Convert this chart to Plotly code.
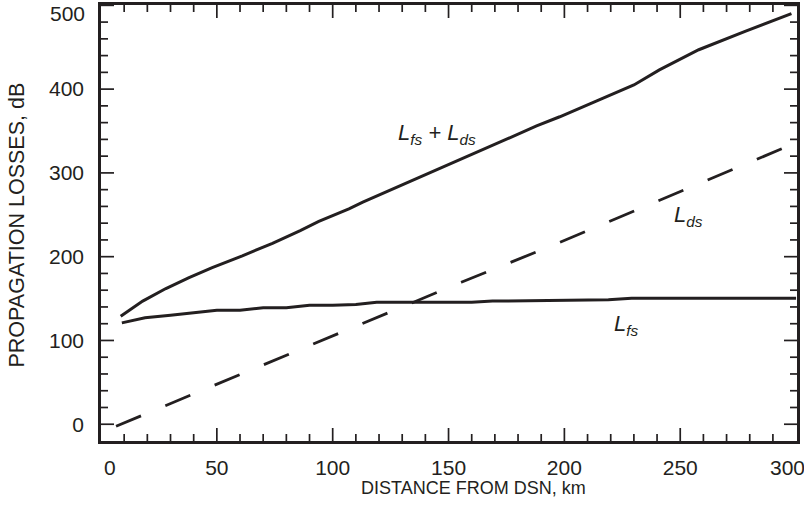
import plotly.graph_objects as go

# Distance (km) and losses (dB)
dist_total = [8.5, 18, 28, 38, 48, 61, 74, 86, 94, 107, 113, 132, 145, 159, 176, 188, 198, 207, 214, 230, 241, 258, 278, 298]
loss_total = [129, 147, 162, 175, 187, 201, 216, 231, 242, 257, 265, 288, 304, 320, 341, 356, 367, 378, 386, 405, 423, 447, 469, 490]

dist_fs = [9, 19, 30, 40, 50, 60, 70, 80, 90, 100, 110, 119, 160, 169, 219, 229, 300]
loss_fs = [121, 127, 130, 133, 136, 136, 139, 139, 142, 142, 143, 145.5, 145.5, 147, 148.5, 150.5, 150.5]

dist_ds = [6.5, 49, 102, 155.5, 198, 250.5, 300]
loss_ds = [-2.4, 46.4, 108, 169.4, 217, 278.6, 336]

x_ticks = [0, 50, 100, 150, 200, 250, 300]
x_labels = ["", "50", "100", "150", "200", "250", ""]
y_ticks = [0, 100, 200, 300, 400, 500]
y_labels = ["0", "100", "200", "300", "400", ""]
x_minor = list(range(10, 300, 10))
y_minor = list(range(0, 501, 20))
x_range = [0, 300.4]
y_range = [-20, 500.4]

INK = "#231f20"
FONT = "Liberation Sans, Arial, sans-serif"

W, H = 804, 518
M = dict(l=101, r=7, t=5, b=77)
PW = W - M["l"] - M["r"]     # plot width in px
PH = H - M["t"] - M["b"]     # plot height in px
MAJOR, MINOR = 13, 7         # tick lengths in px

fig = go.Figure()
fig.add_trace(go.Scatter(x=dist_total, y=loss_total, mode="lines",
                         line=dict(color=INK, width=3)))
fig.add_trace(go.Scatter(x=dist_fs, y=loss_fs, mode="lines",
                         line=dict(color=INK, width=3)))
fig.add_trace(go.Scatter(x=dist_ds, y=loss_ds, mode="lines",
                         line=dict(color=INK, width=2.8, dash="27px,26.4px")))

# inside tick marks on all four sides (layout shapes positioned by the axes)
tick_line = dict(color=INK, width=1.7)
for v in x_minor:
    f = (MAJOR if v in x_ticks else MINOR) / PH
    fig.add_shape(type="line", xref="x", yref="y domain", x0=v, x1=v, y0=0, y1=f,
                  line=tick_line, layer="above")
    fig.add_shape(type="line", xref="x", yref="y domain", x0=v, x1=v, y0=1, y1=1 - f,
                  line=tick_line, layer="above")
for v in y_minor:
    f = (MAJOR if v in y_ticks else MINOR) / PW
    fig.add_shape(type="line", xref="x domain", yref="y", x0=0, x1=f, y0=v, y1=v,
                  line=tick_line, layer="above")
    fig.add_shape(type="line", xref="x domain", yref="y", x0=1, x1=1 - f, y0=v, y1=v,
                  line=tick_line, layer="above")

base = dict(showline=True, linewidth=2.5, linecolor=INK, mirror=True, ticks="",
            showgrid=False, zeroline=False, automargin=False,
            tickfont=dict(family=FONT, size=21, color=INK))

fig.update_layout(
    xaxis=dict(range=x_range, tickvals=x_ticks, ticktext=x_labels, ticklabelstandoff=6, **base),
    yaxis=dict(range=y_range, tickvals=y_ticks, ticktext=y_labels, ticklabelstandoff=10, **base),
)

tick_font = dict(family=FONT, size=21, color=INK)
# edge tick labels, nudged inward as in the reference
fig.add_annotation(x=0.0129, y=-0.0305, xref="paper", yref="paper", xanchor="center", yanchor="top",
                   text="0", showarrow=False, font=tick_font)
fig.add_annotation(x=0.986, y=-0.0305, xref="paper", yref="paper", xanchor="center", yanchor="top",
                   text="300", showarrow=False, font=tick_font)
fig.add_annotation(x=-0.0195, y=0.9794, xref="paper", yref="paper", xanchor="right", yanchor="middle",
                   text="500", showarrow=False, font=tick_font)

# axis titles
fig.add_annotation(x=0.5345, y=-0.108, xref="paper", yref="paper", xanchor="center", yanchor="middle",
                   text="DISTANCE FROM DSN, km", showarrow=False,
                   font=dict(family=FONT, size=18, color=INK))
fig.add_annotation(x=-0.1214, y=0.4954, xref="paper", yref="paper", xanchor="center", yanchor="middle",
                   text="PROPAGATION LOSSES, dB", showarrow=False, textangle=-90,
                   font=dict(family=FONT, size=21.5, color=INK))

ann_font = dict(family=FONT, size=22, color=INK)
fig.add_annotation(x=127.2, y=346, xref="x", yref="y", xanchor="left", yanchor="middle",
                   text="<i>L<sub>fs</sub> + L<sub>ds</sub></i>", showarrow=False, font=ann_font)
fig.add_annotation(x=246.5, y=249, xref="x", yref="y", xanchor="left", yanchor="middle",
                   text="<i>L<sub>ds</sub></i>", showarrow=False, font=ann_font)
fig.add_annotation(x=220.7, y=118, xref="x", yref="y", xanchor="left", yanchor="middle",
                   text="<i>L<sub>fs</sub></i>", showarrow=False, font=ann_font)

fig.update_layout(width=W, height=H, margin=M,
                  plot_bgcolor="white", paper_bgcolor="white", showlegend=False)

fig.write_html("out.html", config={"displayModeBar": False},
               post_script="document.body.style.margin='0';document.body.style.overflow='hidden';")
